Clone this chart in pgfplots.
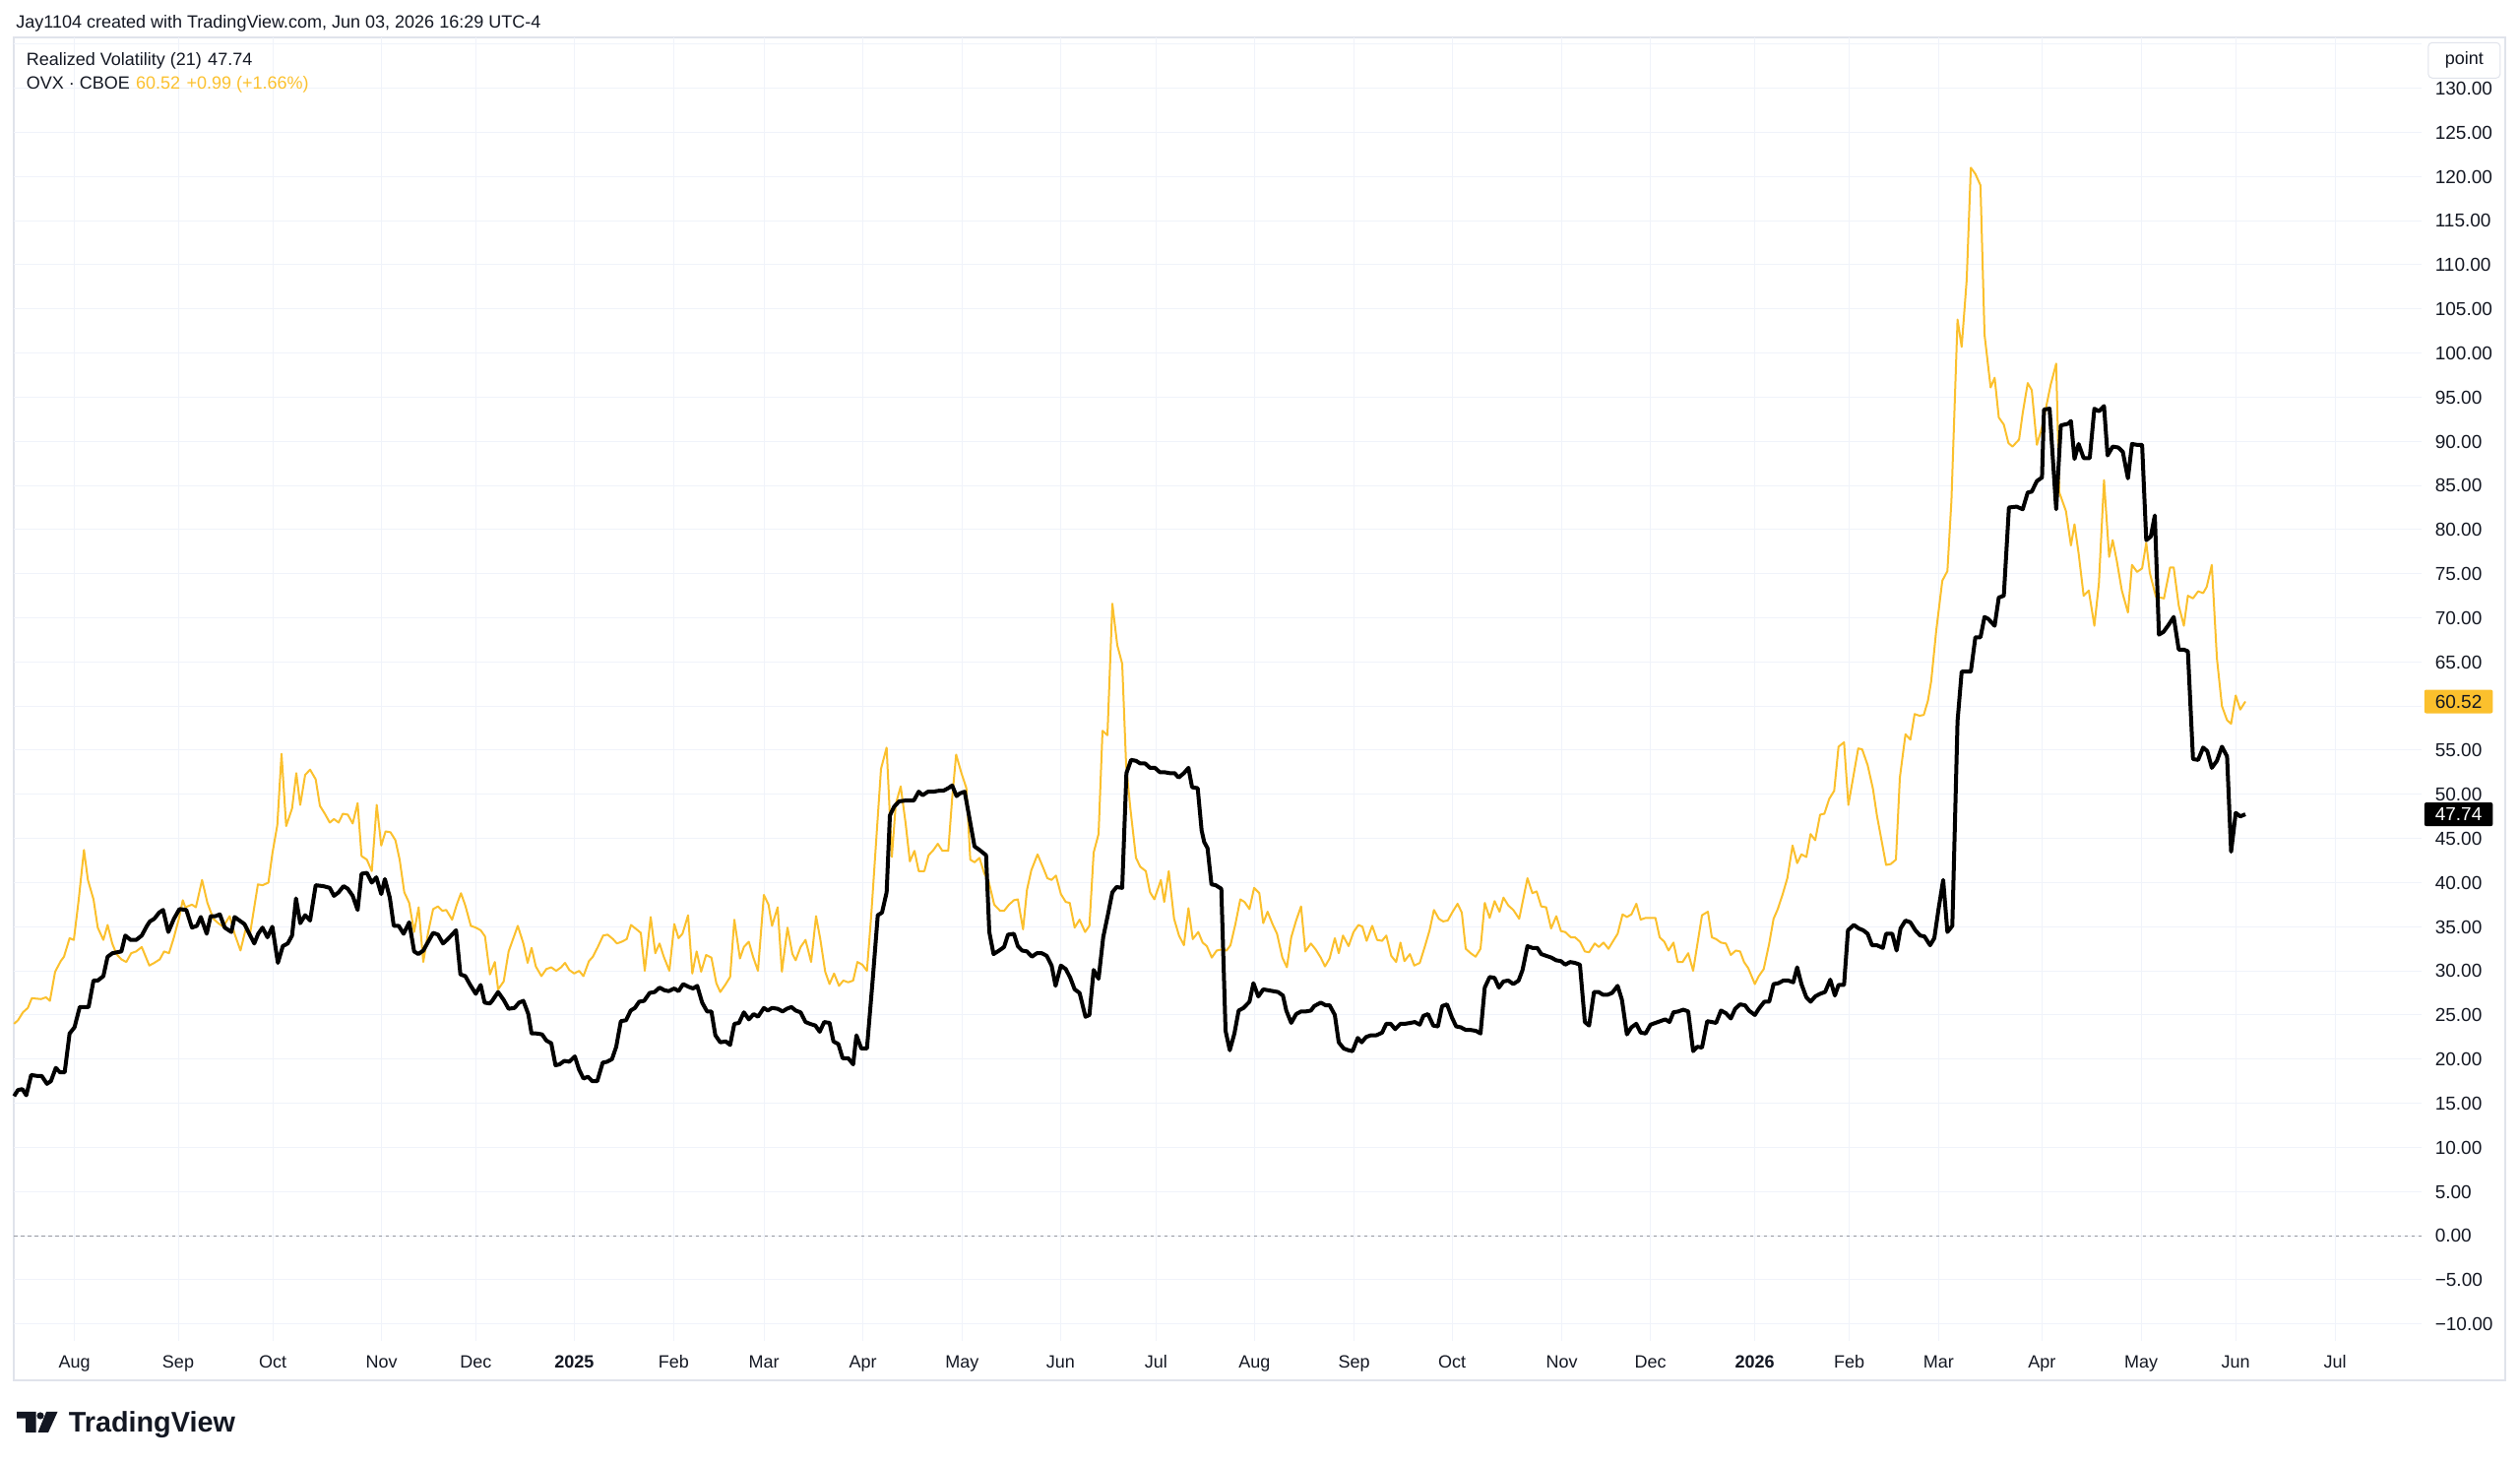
\documentclass[border=0pt]{standalone}
\usepackage{fontspec}
\setmainfont{Liberation Sans}
\usepackage{pgfplots}
\pgfplotsset{compat=1.18}
\definecolor{ovx}{HTML}{FBC02D}
\definecolor{tvtext}{HTML}{131722}
\definecolor{tvgrid}{HTML}{F0F3FA}
\definecolor{tvborder}{HTML}{E0E3EB}
\definecolor{zeroline}{HTML}{9598A1}
\newcommand\fs[1]{\fontsize{#1}{#1}\selectfont}
\begin{document}
\begin{tikzpicture}
\begin{scope}[x=0.25pt,y=0.25pt]
\path[use as bounding box] (0,0) rectangle (2560,1487);
\draw[tvborder, line width=0.5pt] (14,85.3) rectangle (2545,1449.3);
\end{scope}
\begin{axis}[
  at={(3.5pt,31.325pt)}, anchor=south west,
  width=611.5pt, height=331pt, scale only axis,
  xmin=14, xmax=2460, ymin=-11.9, ymax=135.8,
  axis line style={draw=none},
  major tick length=0pt,
  grid=major,
  major grid style={tvgrid, line width=0.25pt},
  xtick={75.7,181,277,387.7,483.3,583.3,684.3,776,876.7,977.3,1077.3,1174.3,1274.3,1375.7,1475,1586.7,1676.7,1782.7,1878.5,1969.3,2074.4,2175,2271,2372},
  xticklabels={Aug,Sep,Oct,Nov,Dec,\textbf{2025},Feb,Mar,Apr,May,Jun,Jul,Aug,Sep,Oct,Nov,Dec,\textbf{2026},Feb,Mar,Apr,May,Jun,Jul},
  ytick={-10,-5,0,5,10,15,20,25,30,35,40,45,50,55,60,65,70,75,80,85,90,95,100,105,110,115,120,125,130,135},
  yticklabels={−10.00,−5.00,0.00,5.00,10.00,15.00,20.00,25.00,30.00,35.00,40.00,45.00,50.00,55.00,60.00,65.00,70.00,75.00,80.00,85.00,90.00,95.00,100.00,105.00,110.00,115.00,120.00,125.00,130.00,{}},
  yticklabel pos=right,
  xticklabel style={font={\fs{4.5pt}}, text=tvtext, inner sep=0pt, anchor=base, yshift=-6.95pt},
  yticklabel style={font={\fs{4.75pt}}, text=tvtext, inner sep=0pt, anchor=base west, xshift=3.25pt, yshift=-1.7pt},
  clip=false,
]
\addplot[zeroline, line width=0.25pt, dash pattern=on 0.875pt off 0.875pt] coordinates {(14,0)(2460,0)};
\addplot[ovx, line width=0.5pt, line join=round] coordinates {
(14.3,24.0)(18.3,24.4)(23.3,25.3)(28.3,25.8)(32.3,26.9)(41.7,26.8)(46.7,27.0)(50.7,26.6)(56.0,29.9)(61.7,31.1)(65.0,31.6)(70.7,33.7)(75.0,33.5)(80.0,38.1)(85.3,43.7)(89.3,40.3)(95.0,38.1)(99.3,34.9)(105.0,33.5)(109.3,35.2)(114.0,33.1)(118.3,31.9)(123.3,31.3)(128.3,31.0)(133.3,32.0)(138.3,32.2)(144.0,32.7)(151.7,30.6)(156.7,30.9)(162.3,31.3)(166.7,32.2)(171.7,32.0)(176.7,33.8)(181.7,35.9)(185.7,38.0)(188.3,37.2)(195.0,37.5)(199.0,37.2)(205.3,40.3)(210.7,37.7)(216.7,35.9)(221.7,35.4)(226.7,35.0)(233.3,36.2)(238.3,34.2)(244.3,32.3)(249.3,34.6)(254.0,34.2)(262.0,39.8)(266.7,39.7)(272.7,40.0)(276.7,43.3)(281.7,46.5)(286.0,54.6)(290.7,46.4)(296.7,48.4)(301.0,52.4)(305.0,48.8)(310.0,52.2)(315.0,52.8)(320.7,51.7)(325.0,48.7)(330.0,47.8)(335.0,46.8)(339.3,47.2)(344.0,46.8)(348.3,47.8)(353.3,47.7)(358.3,46.7)(363.3,49.0)(367.3,43.0)(372.7,42.6)(377.7,41.3)(382.7,48.8)(387.3,44.2)(391.7,45.8)(396.7,45.7)(401.7,44.8)(406.0,42.6)(410.7,38.9)(415.7,37.7)(420.7,34.4)(425.3,37.2)(430.0,31.0)(435.0,34.4)(440.0,37.0)(445.0,37.3)(449.3,36.8)(453.3,36.9)(459.3,35.8)(464.0,37.5)(468.3,38.8)(472.7,37.4)(478.3,35.1)(483.3,34.9)(488.3,34.6)(492.7,33.9)(497.7,29.6)(502.7,31.0)(506.0,27.9)(511.7,28.8)(516.7,32.2)(526.0,35.1)(531.7,33.1)(536.0,30.9)(540.0,32.6)(544.3,30.5)(550.0,29.4)(555.0,30.2)(560.0,30.4)(565.0,30.0)(570.0,30.4)(574.0,30.9)(578.3,30.1)(583.3,29.7)(588.3,30.0)(592.7,29.4)(598.3,31.1)(602.3,31.6)(607.3,32.7)(612.7,34.0)(617.3,34.1)(622.7,33.6)(626.7,33.1)(631.7,33.3)(636.7,33.6)(641.0,35.2)(646.7,34.7)(651.0,34.3)(655.0,30.0)(661.0,36.1)(665.7,32.0)(670.0,33.1)(674.3,31.6)(680.0,30.0)(685.0,35.3)(689.3,33.7)(693.3,34.2)(699.0,36.3)(703.3,29.7)(707.7,32.2)(712.3,29.9)(717.3,31.8)(722.7,31.5)(727.7,28.6)(731.7,27.6)(736.7,28.4)(741.7,29.3)(746.0,35.8)(751.7,31.4)(755.7,32.7)(760.7,33.3)(765.0,31.6)(770.0,30.0)(776.0,38.6)(780.7,37.5)(784.3,35.1)(790.0,37.2)(794.3,29.9)(800.0,34.9)(805.0,31.9)(808.3,31.2)(813.3,32.7)(818.3,33.5)(824.0,31.0)(829.0,36.2)(833.3,33.6)(838.3,29.9)(842.7,28.5)(847.3,29.7)(852.3,28.3)(856.7,28.9)(861.7,28.7)(866.7,28.9)(871.0,31.0)(876.0,30.7)(880.7,30.0)(885.0,36.2)(890.0,44.6)(895.0,52.9)(900.7,55.3)(906.0,42.9)(910.0,48.9)(915.0,50.9)(920.0,46.7)(924.3,42.4)(929.0,43.6)(933.3,41.3)(939.0,41.3)(943.3,43.1)(948.3,43.7)(952.7,44.4)(957.3,43.6)(963.3,43.6)(967.3,49.6)(971.3,54.5)(976.7,52.4)(981.7,50.7)(985.7,42.6)(990.0,42.3)(995.0,42.8)(1000.0,41.0)(1004.0,40.3)(1010.0,37.5)(1016.0,36.8)(1020.0,36.8)(1025.0,37.5)(1030.0,38.0)(1034.0,38.1)(1039.3,34.7)(1043.3,39.2)(1047.7,41.4)(1054.0,43.2)(1059.3,41.8)(1064.0,40.5)(1068.3,40.3)(1072.7,40.8)(1077.7,38.7)(1082.7,37.8)(1086.7,37.7)(1091.7,34.9)(1096.7,35.8)(1102.3,34.4)(1106.7,35.1)(1111.0,43.4)(1116.0,45.5)(1120.0,57.2)(1125.0,56.7)(1130.0,71.6)(1135.0,66.9)(1140.0,64.8)(1144.0,53.3)(1148.3,48.4)(1154.0,42.8)(1158.3,41.8)(1164.0,41.3)(1168.3,38.9)(1172.7,38.1)(1179.3,40.3)(1182.7,37.8)(1187.3,41.3)(1192.7,35.9)(1197.7,34.0)(1202.7,32.9)(1207.3,37.1)(1211.7,33.6)(1217.3,34.4)(1221.7,33.2)(1226.0,32.8)(1231.0,31.5)(1236.0,32.3)(1240.0,32.4)(1246.0,32.3)(1250.0,32.9)(1255.0,35.3)(1260.0,38.1)(1264.3,37.8)(1269.3,37.0)(1274.0,39.4)(1279.3,38.8)(1283.3,35.4)(1287.7,36.7)(1292.7,35.3)(1297.3,34.2)(1302.7,31.5)(1307.3,30.4)(1311.7,33.8)(1316.7,35.7)(1321.7,37.3)(1326.0,32.2)(1331.7,33.1)(1336.7,32.4)(1341.7,31.5)(1346.0,30.5)(1350.7,31.4)(1356.0,33.7)(1360.0,32.0)(1364.3,34.0)(1370.0,32.8)(1375.0,34.4)(1380.0,35.2)(1384.0,35.0)(1388.3,33.4)(1394.0,35.1)(1399.0,33.5)(1404.0,33.4)(1408.3,34.0)(1413.3,31.7)(1418.3,31.0)(1422.7,33.2)(1426.7,31.1)(1432.3,31.9)(1436.7,30.6)(1442.3,30.9)(1447.3,32.7)(1452.3,34.6)(1456.7,36.9)(1461.7,35.9)(1466.0,35.6)(1470.7,35.7)(1475.7,36.7)(1480.7,37.6)(1485.0,36.6)(1489.0,32.5)(1494.0,32.0)(1499.0,31.6)(1504.0,32.5)(1508.3,37.7)(1513.3,36.0)(1518.3,37.9)(1523.3,36.7)(1527.3,38.3)(1532.3,37.4)(1537.3,36.9)(1543.3,35.9)(1551.7,40.5)(1556.7,38.8)(1561.0,39.0)(1565.7,37.3)(1570.7,37.2)(1575.7,34.8)(1581.0,36.2)(1585.7,34.5)(1590.0,34.4)(1595.7,33.8)(1600.0,33.8)(1605.0,33.3)(1610.0,32.2)(1614.3,32.1)(1620.0,33.1)(1624.3,32.7)(1629.0,33.2)(1634.0,32.5)(1638.3,33.3)(1643.3,34.2)(1648.3,36.4)(1652.7,36.1)(1657.3,36.4)(1662.3,37.6)(1666.7,35.8)(1671.7,36.0)(1676.7,36.0)(1681.7,36.0)(1686.0,33.8)(1690.7,33.3)(1695.0,32.3)(1700.0,33.2)(1704.3,31.0)(1709.3,31.0)(1715.0,32.0)(1720.0,30.0)(1729.0,36.3)(1735.0,36.7)(1739.0,33.8)(1743.3,33.6)(1748.3,33.2)(1753.3,33.1)(1758.3,31.8)(1763.3,32.3)(1767.7,32.2)(1771.7,31.0)(1776.0,30.3)(1782.7,28.5)(1786.7,29.4)(1791.7,30.2)(1797.3,33.1)(1801.7,35.9)(1806.0,37.0)(1811.0,38.7)(1815.7,40.5)(1821.0,44.2)(1825.7,42.2)(1830.0,43.2)(1835.0,42.9)(1839.3,45.5)(1844.0,44.8)(1849.0,47.7)(1853.3,47.8)(1858.3,49.5)(1863.3,50.4)(1867.7,55.4)(1873.3,55.9)(1877.7,48.8)(1882.7,52.0)(1887.7,55.2)(1891.7,55.1)(1897.3,53.3)(1902.7,50.6)(1906.7,47.6)(1911.7,44.6)(1916.0,42.0)(1920.7,42.1)(1926.0,42.6)(1930.0,51.9)(1935.7,56.8)(1940.7,56.2)(1945.0,59.1)(1950.0,58.9)(1954.3,59.0)(1958.5,60.6)(1961.8,62.8)(1966.9,68.5)(1973.1,74.2)(1978.3,75.3)(1982.4,83.3)(1988.6,103.8)(1992.8,100.7)(1997.9,108.3)(2002.1,121.0)(2006.7,120.3)(2011.9,119.0)(2016.0,102.1)(2022.2,96.1)(2026.3,97.2)(2030.5,92.7)(2035.6,91.9)(2040.3,89.8)(2044.4,89.4)(2051.1,90.2)(2054.8,93.2)(2059.9,96.6)(2064.0,95.8)(2069.2,89.6)(2074.4,91.6)(2083.2,96.4)(2088.8,98.8)(2092.0,84.2)(2098.7,82.1)(2103.8,78.2)(2107.4,80.6)(2111.6,77.3)(2116.7,72.5)(2121.9,73.1)(2127.6,69.1)(2132.2,73.9)(2137.4,85.6)(2142.6,76.9)(2146.2,78.8)(2150.3,76.5)(2155.5,73.1)(2161.7,70.6)(2165.8,76.0)(2171.0,75.2)(2176.1,75.6)(2180.3,78.5)(2183.9,75.1)(2190.1,72.4)(2198.3,72.2)(2204.5,75.7)(2208.2,75.7)(2213.3,71.4)(2218.5,69.1)(2222.6,72.5)(2227.8,72.2)(2233.0,73.0)(2238.1,72.8)(2241.7,73.5)(2246.9,76.0)(2252.1,65.4)(2257.2,60.0)(2262.4,58.4)(2266.5,58.0)(2271.2,61.2)(2275.8,59.6)(2281.0,60.52)
};
\addplot[black, line width=1pt, line join=round] coordinates {
(14.3,15.8)(18.3,16.5)(22.7,16.6)(26.7,15.9)(31.7,18.2)(37.3,18.1)(42.3,18.1)(47.7,17.2)(51.7,17.5)(56.7,19.0)(61.0,18.5)(65.7,18.5)(70.7,22.9)(75.7,23.6)(81.0,25.9)(90.0,25.9)(95.0,28.9)(99.3,28.9)(105.0,29.4)(109.3,31.6)(114.3,32.0)(123.3,32.2)(127.3,34.0)(132.7,33.5)(138.3,33.5)(144.0,34.0)(149.3,35.1)(152.3,35.6)(156.7,35.9)(161.7,36.6)(165.7,36.9)(171.0,34.4)(176.7,35.9)(182.3,37.0)(189.3,36.9)(195.0,34.9)(200.0,35.1)(204.0,36.1)(210.0,34.2)(214.0,36.2)(219.0,36.2)(223.3,36.4)(228.3,34.9)(235.0,34.4)(238.3,36.1)(243.3,35.7)(248.3,35.3)(253.3,34.2)(258.3,33.1)(262.3,34.2)(266.7,34.9)(271.7,33.8)(276.7,35.0)(282.3,30.9)(287.3,32.8)(292.3,33.1)(296.7,34.0)(300.7,38.2)(305.0,35.4)(310.0,36.3)(315.0,35.7)(320.7,39.7)(328.3,39.6)(335.0,39.4)(339.3,38.5)(344.0,38.9)(349.0,39.6)(353.3,39.3)(358.3,38.5)(363.3,36.9)(367.3,41.0)(372.7,41.1)(377.7,40.0)(382.3,40.6)(387.3,38.7)(391.0,40.4)(396.0,38.3)(400.0,35.1)(405.0,35.1)(410.0,34.2)(415.7,35.5)(420.7,32.2)(425.0,31.9)(430.0,32.3)(435.0,33.3)(440.0,34.3)(445.0,34.1)(450.0,33.1)(455.0,33.6)(463.3,34.6)(467.7,29.6)(472.7,29.4)(477.7,28.4)(483.3,27.4)(488.3,28.4)(492.3,26.4)(497.7,26.3)(500.0,26.6)(506.0,27.6)(511.7,26.7)(516.7,25.7)(522.7,25.8)(527.3,26.4)(531.7,26.6)(536.7,25.1)(540.0,22.9)(545.0,22.9)(550.7,22.8)(555.0,22.1)(560.0,21.8)(564.3,19.3)(568.3,19.4)(573.3,19.8)(578.3,19.7)(584.0,20.3)(588.3,18.8)(592.7,17.8)(597.3,18.0)(601.7,17.5)(606.7,17.5)(612.3,19.6)(616.7,19.7)(621.7,20.0)(626.0,21.4)(630.7,24.3)(636.0,24.4)(640.7,25.5)(645.0,25.8)(649.3,26.5)(654.3,26.6)(660.0,27.5)(665.0,27.6)(670.0,28.1)(675.0,27.8)(679.3,27.7)(685.0,28.0)(689.3,27.7)(694.0,28.5)(699.3,28.2)(704.0,28.0)(708.3,28.3)(713.3,26.4)(718.3,25.4)(722.7,25.4)(726.7,22.7)(731.7,21.9)(737.3,22.0)(741.7,21.6)(746.0,24.0)(750.7,24.1)(755.7,25.3)(760.7,24.5)(765.7,25.1)(770.0,24.8)(776.0,25.8)(780.0,25.5)(784.3,25.8)(790.0,25.7)(795.0,25.4)(799.3,25.7)(804.0,25.9)(808.3,25.5)(813.3,25.3)(818.3,24.2)(822.7,24.0)(828.3,23.8)(832.7,23.1)(837.3,24.2)(842.7,24.1)(846.7,22.0)(851.7,21.7)(856.0,20.1)(861.7,20.1)(866.7,19.4)(870.0,22.7)(875.0,21.2)(880.7,21.2)(886.7,29.2)(891.7,36.3)(896.0,36.6)(900.7,38.9)(904.0,47.6)(908.3,48.6)(913.3,49.2)(920.0,49.3)(928.3,49.3)(933.3,50.3)(937.3,49.9)(942.7,50.3)(948.3,50.3)(953.3,50.4)(958.3,50.4)(963.3,50.7)(967.3,51.0)(971.7,49.8)(975.0,50.1)(980.0,50.3)(985.0,47.2)(990.0,44.1)(995.0,43.7)(1001.7,43.1)(1005.0,34.4)(1009.3,31.9)(1015.0,32.3)(1020.0,32.7)(1024.0,34.1)(1030.0,34.2)(1034.0,32.8)(1038.3,32.3)(1043.3,32.2)(1048.3,31.6)(1053.3,32.0)(1058.3,32.0)(1063.3,31.7)(1068.3,30.6)(1072.3,28.3)(1077.7,30.6)(1082.7,30.2)(1087.3,29.2)(1091.7,27.9)(1096.7,27.5)(1102.7,24.8)(1106.7,25.0)(1111.0,30.1)(1116.0,29.1)(1120.7,33.8)(1125.0,36.1)(1130.0,38.9)(1134.3,39.5)(1140.0,39.4)(1144.3,52.4)(1149.0,53.9)(1154.0,53.8)(1158.3,53.5)(1163.3,53.5)(1168.3,53.0)(1173.3,53.0)(1178.3,52.5)(1183.3,52.5)(1188.3,52.4)(1193.3,52.4)(1197.3,51.9)(1202.7,52.4)(1207.3,53.0)(1211.0,50.8)(1216.7,50.7)(1220.7,45.9)(1223.3,44.6)(1226.7,43.9)(1230.7,39.8)(1235.0,39.7)(1240.7,39.3)(1245.0,23.2)(1249.3,21.0)(1254.0,22.9)(1258.3,25.5)(1263.3,25.8)(1269.3,26.5)(1273.3,28.6)(1278.3,27.1)(1283.3,27.9)(1288.3,27.8)(1293.3,27.7)(1298.3,27.6)(1303.3,27.2)(1306.7,25.5)(1311.7,24.1)(1316.7,25.1)(1321.7,25.4)(1326.7,25.4)(1331.7,25.5)(1335.0,26.0)(1341.7,26.4)(1346.7,26.1)(1350.7,26.1)(1356.0,25.0)(1360.0,21.9)(1365.0,21.2)(1370.0,21.0)(1374.0,20.9)(1379.3,22.4)(1383.3,21.9)(1387.7,22.5)(1392.7,22.7)(1398.3,22.7)(1404.0,23.0)(1408.3,24.0)(1412.7,24.0)(1417.3,23.4)(1422.7,24.0)(1427.3,24.0)(1432.7,24.1)(1437.3,24.2)(1442.3,23.9)(1446.0,24.9)(1450.7,25.1)(1456.0,23.8)(1460.7,23.7)(1465.0,26.0)(1470.0,26.2)(1475.0,24.7)(1479.3,23.7)(1484.0,23.6)(1489.0,23.3)(1494.0,23.3)(1499.3,23.2)(1504.0,22.9)(1508.3,28.1)(1513.3,29.3)(1518.3,29.2)(1522.7,28.1)(1527.3,28.8)(1532.3,28.9)(1537.3,28.5)(1542.7,28.9)(1546.7,30.1)(1551.7,32.8)(1556.7,32.6)(1561.7,32.6)(1565.7,31.9)(1570.7,31.7)(1576.0,31.5)(1580.7,31.2)(1585.7,31.1)(1590.0,30.7)(1595.0,31.0)(1600.0,30.9)(1605.0,30.7)(1610.0,24.2)(1614.3,23.8)(1619.3,27.6)(1624.0,27.6)(1628.3,27.3)(1633.3,27.3)(1637.7,27.5)(1643.3,28.3)(1647.7,26.7)(1652.7,22.8)(1657.3,23.6)(1662.3,24.0)(1666.7,23.0)(1671.7,22.9)(1676.7,23.9)(1681.7,24.1)(1686.7,24.3)(1691.7,24.5)(1696.0,24.2)(1700.0,25.3)(1705.0,25.4)(1710.0,25.6)(1715.0,25.4)(1720.0,20.9)(1724.3,21.4)(1729.0,21.3)(1734.3,24.3)(1739.0,24.2)(1743.3,24.1)(1748.3,25.5)(1753.3,25.2)(1758.3,24.6)(1762.7,25.7)(1767.7,26.2)(1772.7,26.1)(1776.7,25.5)(1782.7,25.0)(1786.7,25.7)(1792.3,26.5)(1797.3,26.5)(1801.7,28.5)(1806.7,28.6)(1811.7,28.9)(1816.7,28.9)(1821.7,28.7)(1825.7,30.4)(1830.0,28.5)(1835.0,27.0)(1839.3,26.5)(1844.0,27.1)(1849.0,27.4)(1854.0,27.6)(1859.3,29.0)(1864.0,27.2)(1867.7,28.4)(1873.3,28.4)(1877.3,34.6)(1883.3,35.2)(1888.3,34.8)(1892.7,34.6)(1897.3,34.2)(1901.7,32.9)(1906.7,32.9)(1912.7,32.6)(1916.0,34.2)(1922.3,34.2)(1926.7,32.3)(1930.7,34.8)(1935.7,35.7)(1940.7,35.5)(1945.7,34.6)(1950.7,34.0)(1955.0,33.9)(1960.7,32.9)(1965.0,33.7)(1969.3,37.0)(1974.0,40.3)(1978.3,34.4)(1983.3,35.1)(1988.6,58.3)(1992.8,63.9)(2002.1,63.9)(2006.7,67.8)(2011.9,67.8)(2016.0,70.1)(2019.6,69.9)(2026.3,69.1)(2030.5,72.3)(2035.6,72.5)(2040.8,82.5)(2048.6,82.6)(2054.8,82.3)(2059.9,84.2)(2064.0,84.3)(2069.2,85.5)(2074.4,85.9)(2076.4,93.6)(2082.1,93.7)(2088.8,82.3)(2093.5,91.8)(2101.2,92.0)(2103.8,92.3)(2107.4,88.0)(2111.6,89.7)(2116.7,88.1)(2122.9,88.1)(2127.6,93.7)(2132.2,93.4)(2137.4,94.0)(2141.0,88.4)(2146.2,89.4)(2151.9,89.3)(2156.5,88.8)(2161.7,85.8)(2165.8,89.7)(2171.0,89.6)(2176.1,89.6)(2180.3,78.8)(2184.9,79.2)(2189.0,81.6)(2193.2,68.1)(2197.8,68.4)(2203.0,69.2)(2208.2,70.1)(2213.3,66.4)(2218.5,66.4)(2222.6,66.2)(2227.8,54.0)(2233.0,53.9)(2238.1,55.3)(2242.3,54.9)(2246.9,53.0)(2252.1,53.8)(2257.2,55.4)(2262.4,54.3)(2266.5,43.5)(2271.2,47.9)(2275.8,47.5)(2281.0,47.74)
};
\node[fill=ovx, text=tvtext, anchor=west, inner xsep=2.75pt, inner ysep=0pt, minimum height=6pt, rounded corners=0.5pt, font={\fs{4.75pt}}] at (axis cs:2462,60.52) {60.52};
\node[fill=black, text=white, anchor=west, inner xsep=2.75pt, inner ysep=0pt, minimum height=6pt, rounded corners=0.5pt, font={\fs{4.75pt}}] at (axis cs:2462,47.74) {47.74};
\end{axis}
\begin{scope}[x=0.25pt,y=0.25pt]
% point box
\node[draw=tvborder, fill=white, rounded corners=1pt, line width=0.25pt, minimum width=18.25pt, minimum height=9pt, inner sep=0pt, text=tvtext, font={\fs{4.5pt}}] at (2503.3,1425.7) {point};
% header and legend
\node[anchor=base west, inner sep=0pt, text=tvtext, font={\fs{4.5pt}}] at (15.6,1458.5) {Jay1104 created with TradingView.com, Jun 03, 2026 16:29 UTC-4};
\node[anchor=base west, inner sep=0pt, text=tvtext, font={\fs{4.5pt}}] at (26,1420.5) {Realized Volatility (21)\hspace{1.6pt}47.74};
\node[anchor=base west, inner sep=0pt, text=tvtext, font={\fs{4.5pt}}] at (26,1396.5) {OVX · CBOE\hspace{1.6pt}\textcolor{ovx}{60.52\hspace{1.6pt}+0.99 (+1.66\%)}};
% TradingView logo
\fill[tvtext] (17,53) -- (36.6,53) -- (36.6,32) -- (26,32) -- (26,46.3) -- (17,46.3) -- cycle;
\fill[tvtext] (41,49) circle (3.6);
\fill[tvtext] (47,53) -- (58.5,53) -- (49,32) -- (38.5,32) -- cycle;
\node[anchor=base west, inner sep=0pt, text=tvtext, font={\fs{7.2pt}\bfseries}] at (69,32.7) {TradingView};
\end{scope}
\end{tikzpicture}
\end{document}
